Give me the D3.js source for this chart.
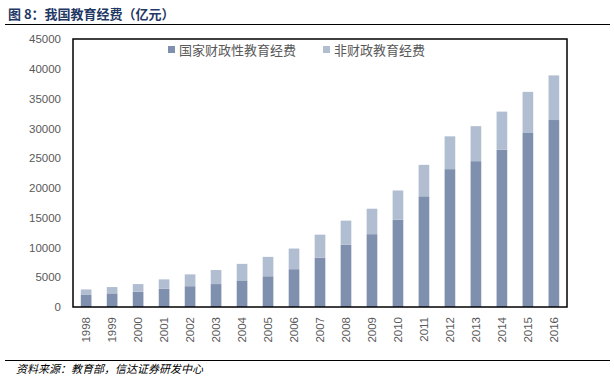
<!DOCTYPE html>
<html>
<head>
<meta charset="utf-8">
<script src="https://cdn.jsdelivr.net/npm/d3@7"></script>
<style>
  body { margin: 0; background: #fff; }
  svg { display: block; font-family: "Liberation Sans", Arial, sans-serif; }
</style>
</head>
<body>
<div id="chart"></div>
<script>
// years and series (亿元)
const years = ["1998","1999","2000","2001","2002","2003","2004","2005","2006","2007",
  "2008","2009","2010","2011","2012","2013","2014","2015","2016"];
const fiscal = [2032, 2287, 2563, 3057, 3491, 3851, 4466, 5161, 6348, 8280,
  10450, 12231, 14670, 18587, 23148, 24488, 26421, 29221, 31396];
const total = [2949, 3349, 3849, 4638, 5480, 6208, 7243, 8419, 9815, 12148,
  14501, 16503, 19562, 23869, 28655, 30365, 32806, 36129, 38888];
const nonFiscal = total.map((t, i) => t - fiscal[i]);
const yTicks = [0, 5000, 10000, 15000, 20000, 25000, 30000, 35000, 40000, 45000];
const seriesNames = ["国家财政性教育经费", "非财政教育经费"];
const colors = ["#7f8fae", "#b1bdd0"];

const width = 614, height = 381;
const plot = { left: 73, top: 39, right: 567, bottom: 307 };

const svg = d3.select("#chart").append("svg")
  .attr("width", width)
  .attr("height", height);

// title
svg.append("text")
  .attr("x", 8).attr("y", 19)
  .attr("fill", "#1f3864")
  .style("font-family", "'Noto Sans CJK SC', sans-serif")
  .style("font-weight", "bold")
  .style("font-size", "13px")
  .text("图 8：我国教育经费（亿元）");

svg.append("line")
  .attr("x1", 5).attr("x2", 610).attr("y1", 24.5).attr("y2", 24.5)
  .attr("stroke", "#000").attr("stroke-width", 1);

const x = d3.scaleBand()
  .domain(years)
  .range([plot.left, plot.right])
  .paddingInner(0.59)
  .paddingOuter(0.3);

const y = d3.scaleLinear()
  .domain([0, 45000])
  .range([plot.bottom, plot.top]);

// stacked bars
const rows = years.map((yr, i) => ({ year: yr, a: fiscal[i], b: nonFiscal[i] }));
const stack = d3.stack().keys(["a", "b"])(rows);

svg.append("g").selectAll("g")
  .data(stack)
  .enter().append("g")
  .attr("fill", (d, i) => colors[i])
  .selectAll("rect")
  .data(d => d)
  .enter().append("rect")
  .attr("x", d => x(d.data.year))
  .attr("width", x.bandwidth())
  .attr("y", d => y(d[1]))
  .attr("height", d => y(d[0]) - y(d[1]));

// y axis labels
const yAxis = svg.append("g")
  .attr("transform", "translate(" + (plot.left - 12) + ",0)")
  .call(d3.axisLeft(y).tickValues(yTicks).tickFormat(d3.format("d")).tickSize(0).tickPadding(0));
yAxis.select(".domain").remove();
yAxis.selectAll("text")
  .attr("fill", "#595959")
  .style("font-size", "11.5px")
  .style("font-family", "'Liberation Sans', Arial, sans-serif");

// x axis labels, rotated
const xAxis = svg.append("g")
  .attr("transform", "translate(0," + plot.bottom + ")")
  .call(d3.axisBottom(x).tickSize(0).tickPadding(0));
xAxis.select(".domain").remove();
xAxis.selectAll("text")
  .attr("fill", "#595959")
  .style("font-size", "11.5px")
  .style("font-family", "'Liberation Sans', Arial, sans-serif")
  .attr("text-anchor", "end")
  .attr("dy", "0.35em")
  .attr("transform", "translate(0,10) rotate(-90)")
  .attr("x", 0).attr("y", 0);

// plot frame
svg.append("rect")
  .attr("x", plot.left).attr("y", plot.top)
  .attr("width", plot.right - plot.left)
  .attr("height", plot.bottom - plot.top)
  .attr("fill", "none")
  .attr("stroke", "#000")
  .attr("stroke-width", 1.5);

// legend
const legendX = [168, 323];
const legend = svg.append("g").selectAll("g")
  .data(seriesNames)
  .enter().append("g")
  .attr("transform", (d, i) => "translate(" + legendX[i] + ",50)");
legend.append("rect")
  .attr("x", 0).attr("y", -4)
  .attr("width", 7).attr("height", 7)
  .attr("fill", (d, i) => colors[i]);
legend.append("text")
  .attr("x", 11).attr("y", 0)
  .attr("dy", "0.35em")
  .attr("fill", "#595959")
  .style("font-family", "'Noto Sans CJK SC', sans-serif")
  .style("font-size", "13px")
  .text(d => d);

// footer
svg.append("line")
  .attr("x1", 5).attr("x2", 610).attr("y1", 360.5).attr("y2", 360.5)
  .attr("stroke", "#000").attr("stroke-width", 1);

svg.append("text")
  .attr("x", 16).attr("y", 373)
  .attr("fill", "#000")
  .style("font-family", "'Noto Sans CJK SC', sans-serif")
  .style("font-style", "italic")
  .style("font-size", "11px")
  .text("资料来源：教育部，信达证券研发中心");
</script>
</body>
</html>
